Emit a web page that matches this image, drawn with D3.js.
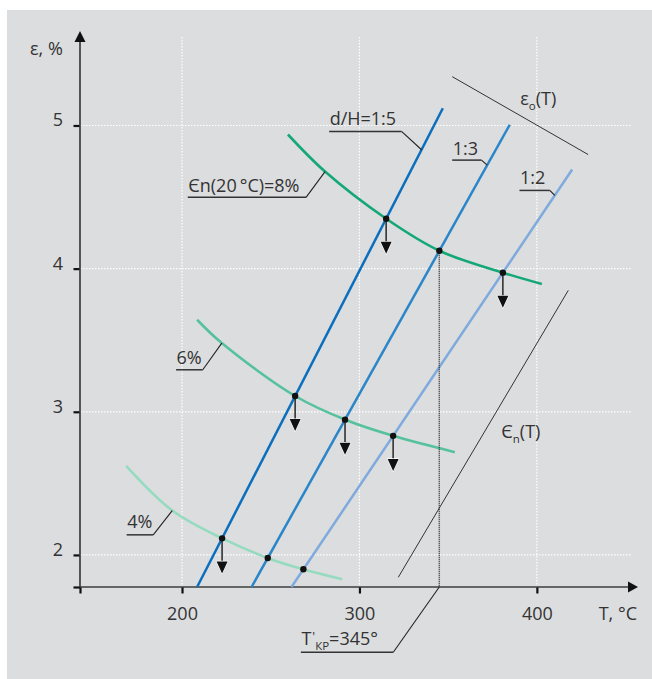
<!DOCTYPE html>
<html>
<head>
<meta charset="utf-8">
<script src="https://cdn.jsdelivr.net/npm/d3@7"></script>
<style>
  body { margin: 0; background: #fff; }
  text { font-family: "Open Sans", "DejaVu Sans", sans-serif; font-weight: 400; fill: #333; }
</style>
</head>
<body>
<svg id="chart" width="652" height="679"></svg>
<script>
// ---- data ----
const tempTicks = [200, 300, 400];          // T, °C
const strainTicks = [2, 3, 4, 5];           // ε, %
const criticalTemp = 345;                   // T'кр

// straight lines for the d/H ratios, endpoints [T, ε]
const ratioNames = ["d/H=1:5", "1:3", "1:2"];
const ratio15 = [[208.5, 1.776], [347.0, 5.12]];
const ratio13 = [[239.2, 1.776], [384.7, 5.005]];
const ratio12 = [[261.7, 1.776], [419.9, 4.692]];

// ε_n(T) curves for the initial strain at 20 °C, points [T, ε]
const strainNames = ["Єn(20\u2009°C)=8%", "6%", "4%"];
const strain8 = [[259.7, 4.937], [280.6, 4.678], [314.9, 4.350], [345.0, 4.125], [380.8, 3.972], [402.8, 3.893]];
const strain6 = [[208.5, 3.643], [222.4, 3.480], [263.5, 3.112], [293.5, 2.937], [319.0, 2.832], [353.8, 2.718]];
const strain4 = [[168.5, 2.622], [194.5, 2.310], [222.4, 2.117], [249.7, 1.972], [268.3, 1.900], [290.3, 1.830]];

// which crossings (curve × ratio line) carry a downward arrow
const arrows8 = [true, false, true];
const arrows6 = [true, true, true];
const arrows4 = [true, false, false];
const arrowDrop = 0.245;                    // ε units

// guide lines for ε_o(T) and ε_n(T)
const epsOLine = [[352.3, 5.341], [428.9, 4.797]];
const epsNLine = [[417.7, 3.848], [321.9, 1.844]];

// ---- setup ----
const FS = 18;
const svg = d3.select("#chart");
const x = d3.scaleLinear().domain([142.5, 457]).range([80, 638]);
const y = d3.scaleLinear().domain([1.776, 5.66]).range([587, 31]);
const x0 = x(142.5), y0 = y(1.776);

svg.append("rect").attr("x", 7).attr("y", 10).attr("width", 645).attr("height", 669).attr("fill", "#dcdddf");

// grid
const grid = svg.append("g").attr("stroke", "#ffffff").attr("stroke-width", 1.2).attr("stroke-dasharray", "1.5,1.5");
tempTicks.forEach(t => grid.append("line").attr("x1", x(t)).attr("x2", x(t)).attr("y1", 37).attr("y2", y0));
strainTicks.forEach(s => grid.append("line").attr("x1", x0).attr("x2", 631).attr("y1", y(s)).attr("y2", y(s)));

// axes
const xAxis = svg.append("g").attr("transform", `translate(0,${y0})`)
  .call(d3.axisBottom(x).tickValues([142.5, ...tempTicks]).tickSize(6.5).tickSizeOuter(0).tickFormat((d, i) => i ? d : ""));
const yAxis = svg.append("g").attr("transform", `translate(${x0},0)`)
  .call(d3.axisLeft(y).tickValues([1.776, ...strainTicks]).tickSize(6.5).tickSizeOuter(0).tickFormat((d, i) => i ? d : ""));
[xAxis, yAxis].forEach(a => {
  a.select(".domain").remove();
  a.selectAll(".tick line").attr("stroke", "#111").attr("stroke-width", 2.2);
  a.selectAll("text").attr("font-size", FS).attr("font-family", null).attr("fill", "#333");
});
xAxis.selectAll("text").attr("y", 33).attr("dy", 0);
yAxis.selectAll("text").attr("x", -17).attr("dy", 0.5);

const axisCol = "#3d3d3d";
svg.append("line").attr("x1", x0).attr("x2", x0).attr("y1", y0).attr("y2", 40).attr("stroke", axisCol).attr("stroke-width", 1.7);
svg.append("line").attr("x1", x0).attr("x2", 630).attr("y1", y0).attr("y2", y0).attr("stroke", axisCol).attr("stroke-width", 1.7);
svg.append("path").attr("d", `M${x0},31 L${x0 - 5.5},42 L${x0 + 5.5},42 Z`).attr("fill", "#111");
svg.append("path").attr("d", `M638,${y0} L628,${y0 - 5.5} L628,${y0 + 5.5} Z`).attr("fill", "#111");

svg.append("text").attr("x", 30).attr("y", 55).attr("font-size", FS).text("ε, %");
svg.append("text").attr("x", 637).attr("y", 620).attr("text-anchor", "end").attr("font-size", FS).text("T, °C");

// guide lines
const lineGen = d3.line().x(d => x(d[0])).y(d => y(d[1]));
svg.append("path").attr("d", lineGen(epsOLine)).attr("stroke", "#333").attr("stroke-width", 1).attr("fill", "none");
svg.append("path").attr("d", lineGen(epsNLine)).attr("stroke", "#333").attr("stroke-width", 1).attr("fill", "none");

const mid = l => [(x(l[0][0]) + x(l[1][0])) / 2, (y(l[0][1]) + y(l[1][1])) / 2];
const mo = mid(epsOLine);
const tO = svg.append("text").attr("x", mo[0]).attr("y", mo[1] - 11).attr("font-size", FS);
tO.append("tspan").text("ε");
tO.append("tspan").attr("font-size", 11.5).attr("dy", 5).text("o");
tO.append("tspan").attr("dy", -5).text("(T)");
const mn = mid(epsNLine);
const tN = svg.append("text").attr("x", mn[0] + 18).attr("y", mn[1] + 4).attr("font-size", FS);
tN.append("tspan").text("Є");
tN.append("tspan").attr("font-size", 11.5).attr("dy", 5).text("n");
tN.append("tspan").attr("dy", -5).text("(T)");

// ratio lines
const ratios = [ratio15, ratio13, ratio12];
const ratioColors = ["#0b6fbe", "#2a86c9", "#7eaadd"];
ratios.forEach((r, i) => svg.append("path").attr("d", lineGen(r)).attr("stroke", ratioColors[i])
  .attr("stroke-width", 2.5).attr("fill", "none"));

// strain curves
const curveGen = d3.line().x(d => x(d[0])).y(d => y(d[1])).curve(d3.curveCatmullRom.alpha(0.5));
const strains = [strain8, strain6, strain4];
const strainColors = ["#15a877", "#55c29c", "#95dbbf"];
const curvePaths = strains.map((s, i) => svg.append("path").attr("d", curveGen(s)).attr("stroke", strainColors[i])
  .attr("stroke-width", 2.6).attr("fill", "none").node());

// point of a rendered curve at a given screen x
function curveAtX(node, px) {
  const len = node.getTotalLength();
  let best = null, bd = Infinity;
  for (let l = 0; l <= len; l += 0.25) {
    const p = node.getPointAtLength(l);
    const d = Math.abs(p.x - px);
    if (d < bd) { bd = d; best = p; }
  }
  return [best.x, best.y];
}
// crossing of a rendered curve with a straight ratio line
function crossing(node, r) {
  const ax = x(r[0][0]), ay = y(r[0][1]), bx = x(r[1][0]), by = y(r[1][1]);
  const side = p => (bx - ax) * (p.y - ay) - (by - ay) * (p.x - ax);
  const len = node.getTotalLength();
  let prev = node.getPointAtLength(0), ps = side(prev);
  for (let l = 0.25; l <= len; l += 0.25) {
    const p = node.getPointAtLength(l), s = side(p);
    if ((s <= 0) !== (ps <= 0)) {
      const t = ps / (ps - s);
      return [prev.x + (p.x - prev.x) * t, prev.y + (p.y - prev.y) * t];
    }
    prev = p; ps = s;
  }
  return null;
}
const onLine = (r, t) => {
  const k = (t - r[0][0]) / (r[1][0] - r[0][0]);
  return [x(t), y(r[0][1] + k * (r[1][1] - r[0][1]))];
};

// critical temperature marker
const critPt = crossing(curvePaths[0], ratio13);
svg.append("line").attr("x1", x(criticalTemp)).attr("x2", x(criticalTemp)).attr("y1", critPt[1]).attr("y2", y0)
  .attr("stroke", "#333").attr("stroke-width", 1.5).attr("stroke-dasharray", "1,1");

// crossings with dots and arrows
const arrowSets = [arrows8, arrows6, arrows4];
const dropPx = y(0) - y(arrowDrop);
curvePaths.forEach((node, ci) => {
  ratios.forEach((r, ri) => {
    const p = crossing(node, r);
    if (!p) return;
    if (arrowSets[ci][ri]) {
      const tip = p[1] + dropPx;
      svg.append("line").attr("x1", p[0]).attr("x2", p[0]).attr("y1", p[1]).attr("y2", tip - 9)
        .attr("stroke", "#333").attr("stroke-width", 1.6);
      svg.append("path").attr("d", `M${p[0]},${tip} L${p[0] - 5.5},${tip - 12} L${p[0] + 5.5},${tip - 12} Z`)
        .attr("fill", "#111").attr("stroke", "#fff").attr("stroke-width", 1.2).attr("paint-order", "stroke");
    }
    svg.append("circle").attr("cx", p[0]).attr("cy", p[1]).attr("r", 3.2).attr("fill", "#111");
  });
});

// callout labels: touch point, elbow offset, underline length
function callout(pt, dx, dy, len, gap) {
  const ex = pt[0] + dx, ey = pt[1] + dy;
  svg.append("path").attr("d", `M${pt[0]},${pt[1]} L${ex},${ey}`).attr("stroke", "#222").attr("stroke-width", 1.1).attr("fill", "none");
  svg.append("path").attr("d", `M${ex},${ey} L${ex - len},${ey}`).attr("stroke", "#333").attr("stroke-width", 1.5).attr("fill", "none");
  return svg.append("text").attr("x", ex - len + 0.5).attr("y", ey - gap).attr("font-size", FS);
}
callout(onLine(ratio15, 335.0), -20, -18.4, 72.4, 6.5).text(ratioNames[0]);
callout(onLine(ratio13, 372.0), -5.7, -5, 29.3, 5.6).text(ratioNames[1]);
callout(onLine(ratio12, 410.1), -5, -5, 30.3, 6).text(ratioNames[2]);
callout(curveAtX(curvePaths[0], x(280.6)), -19, 25.7, 118.3, 5).text(strainNames[0]);
callout(curveAtX(curvePaths[1], x(222.4)), -19, 26.7, 26.7, 6).text(strainNames[1]);
callout(curveAtX(curvePaths[2], x(194.5)), -19, 24.3, 26.6, 6.7).text(strainNames[2]);
const tk = callout([x(criticalTemp), y0], -46, 65.3, 92.4, 7.3);
tk.append("tspan").text("T");
tk.append("tspan").attr("font-size", 13).attr("dx", 1).attr("dy", -4).text("'");
tk.append("tspan").attr("font-size", 11.5).attr("dy", 9).text("КР");
tk.append("tspan").attr("dy", -5).text("=" + criticalTemp + "°");
</script>
</body>
</html>
